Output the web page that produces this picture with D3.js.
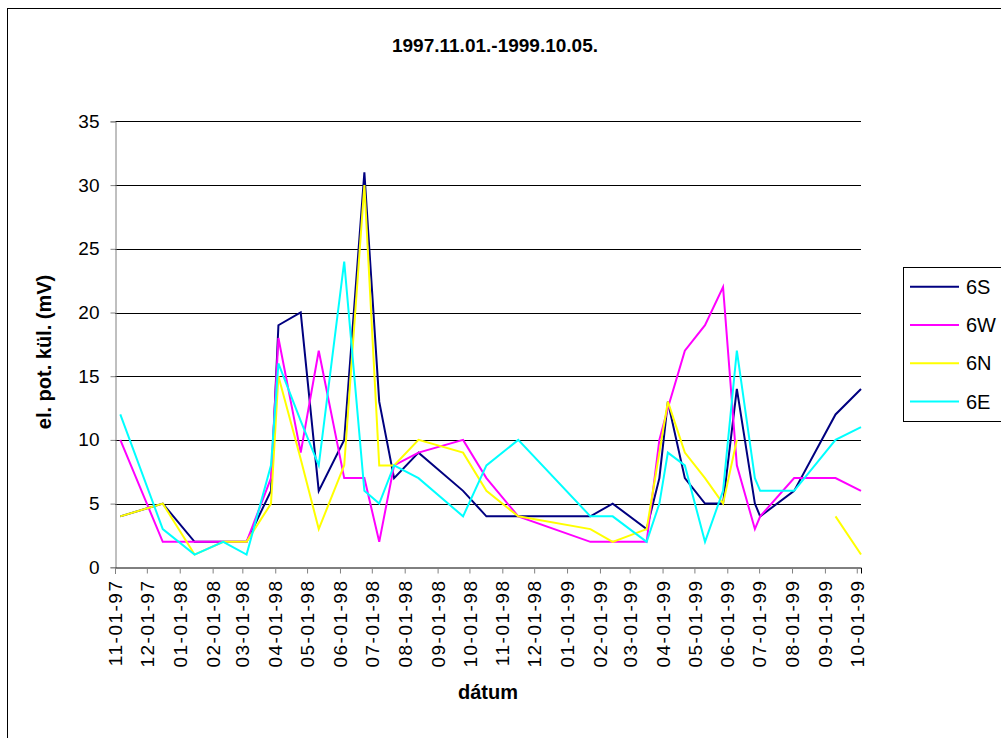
<!DOCTYPE html>
<html>
<head>
<meta charset="utf-8">
<script src="https://cdn.jsdelivr.net/npm/d3@7"></script>
<style>
    body { margin: 0; background: #fff; }
    svg { font-family: 'Liberation Sans', Arial, sans-serif; }
</style>
</head>
<body>
<svg id="chart" width="1001" height="738"></svg>
<script>
// measurement dates (m-d-y in the picture)
var dates = ['1997-11-06', '1997-12-16', '1998-01-15', '1998-02-11', '1998-03-05', '1998-03-28',
    '1998-04-04', '1998-04-25', '1998-05-12', '1998-06-05', '1998-06-24', '1998-07-08',
    '1998-07-22', '1998-08-14', '1998-09-25', '1998-10-17', '1998-11-16', '1999-01-23',
    '1999-02-13', '1999-03-17', '1999-03-29', '1999-04-06', '1999-04-22', '1999-05-11',
    '1999-05-28', '1999-06-10', '1999-06-27', '1999-07-02', '1999-08-03', '1999-09-11',
    '1999-10-05'];

var s6S = [4, 5, 2, 2, 2, 6, 19, 20, 6, 10, 31, 13, 7, 9, 6, 4, 4, 4, 5, 3, 7, 13, 7, 5, 5, 14, 5, 4, 6, 12, 14];
var s6W = [10, 2, 2, 2, 2, 7, 18, 9, 17, 7, 7, 2, 8, 9, 10, 7, 4, 2, 2, 2, 10, 12.5, 17, 19, 22, 8, 3, 4, 7, 7, 6];
var s6N = [4, 5, 1, 2, 2, 5, 15, 8.5, 3, 8, 30, 8, 8, 10, 9, 6, 4, 3, 2, 3, 9, 13, 9, 7, 5, 10, null, null, null, 4, 1];
var s6E = [12, 3, 1, 2, 1, 8, 16, 11.5, 8, 24, 6, 5, 8, 7, 4, 8, 10, 4, 4, 2, 5, 9, 8, 2, 6, 17, 7, 6, 6, 10, 11];

var seriesNames = ['6S', '6W', '6N', '6E'];
var seriesColors = ['#000080', '#ff00ff', '#ffff00', '#00ffff'];
var yTicks = [0, 5, 10, 15, 20, 25, 30, 35];
var axisStart = '1997-11-01';
var axisEnd = '1999-10-05';

var titleText = '1997.11.01.-1999.10.05.';
var xTitle = 'dátum';
var yTitle = 'el. pot. kül. (mV)';

var parse = d3.timeParse('%Y-%m-%d');
var allSeries = [s6S, s6W, s6N, s6E];

var svg = d3.select('#chart');

// chart area frame
svg.append('rect')
    .attr('x', 7.5).attr('y', 8.5)
    .attr('width', 1010).attr('height', 750)
    .attr('fill', 'none').attr('stroke', '#000').attr('stroke-width', 1);

var xScale = d3.scaleTime()
    .domain([parse(axisStart), parse(axisEnd)])
    .range([115, 861]);
var yScale = d3.scaleLinear()
    .domain([0, 35])
    .range([567.3, 121.4]);

// gridlines
svg.append('g')
    .selectAll('line')
    .data(yTicks.filter(d => d > 0))
    .enter().append('line')
        .attr('x1', 115).attr('x2', 861)
        .attr('y1', d => Math.round(yScale(d)) + 0.5)
        .attr('y2', d => Math.round(yScale(d)) + 0.5)
        .attr('stroke', '#000').attr('stroke-width', 1);

// y axis
var yAxis = svg.append('g')
    .attr('transform', 'translate(115.5,0)')
    .call(d3.axisLeft(yScale).tickValues(yTicks).tickSize(5).tickPadding(11).tickFormat(d3.format('d')));
yAxis.select('.domain').attr('stroke', '#808080');
yAxis.selectAll('.tick line').attr('stroke', '#808080');
yAxis.selectAll('text')
    .attr('font-size', '19px')
    .attr('font-family', 'Liberation Sans, Arial, sans-serif')
    .attr('fill', '#000');

// x axis
var xAxis = svg.append('g')
    .attr('transform', 'translate(0,' + (Math.round(yScale(0)) + 0.5) + ')')
    .call(d3.axisBottom(xScale).ticks(d3.timeMonth.every(1)).tickSize(6).tickFormat(d3.timeFormat('%m-%d-%y')));
xAxis.select('.domain').attr('stroke', '#000');
xAxis.selectAll('.tick line').attr('stroke', '#808080');
xAxis.selectAll('text')
    .attr('font-size', '19px')
    .attr('font-family', 'Liberation Sans, Arial, sans-serif')
    .attr('fill', '#000')
    .attr('letter-spacing', '1.5px')
    .attr('text-anchor', 'end')
    .attr('transform', 'rotate(-90)')
    .attr('x', -12)
    .attr('y', 0)
    .attr('dy', '0.35em');

// lines
var line = d3.line()
    .defined(d => d.v !== null)
    .x(d => xScale(d.date))
    .y(d => yScale(d.v));

allSeries.forEach(function (values, i) {
    var pts = dates.map((d, j) => ({date: parse(d), v: values[j]}));
    svg.append('path')
        .attr('d', line(pts))
        .attr('fill', 'none')
        .attr('stroke', seriesColors[i])
        .attr('stroke-width', 2)
        .attr('stroke-linejoin', 'miter');
});

// title and axis titles
svg.append('text')
    .attr('x', 495).attr('y', 52)
    .attr('text-anchor', 'middle')
    .attr('font-size', '19px')
    .attr('font-weight', 'bold')
    .text(titleText);

svg.append('text')
    .attr('x', 488).attr('y', 699)
    .attr('text-anchor', 'middle')
    .attr('font-size', '20px')
    .attr('font-weight', 'bold')
    .text(xTitle);

svg.append('text')
    .attr('transform', 'translate(51,352) rotate(-90)')
    .attr('text-anchor', 'middle')
    .attr('font-size', '20px')
    .attr('font-weight', 'bold')
    .text(yTitle);

// legend
var legend = svg.append('g');
legend.append('rect')
    .attr('x', 903.5).attr('y', 267.5)
    .attr('width', 120).attr('height', 154)
    .attr('fill', '#fff').attr('stroke', '#000').attr('stroke-width', 1);

var legendItems = legend.selectAll('g.item')
    .data(seriesNames)
    .enter().append('g')
        .attr('class', 'item')
        .attr('transform', (d, i) => 'translate(0,' + (286.7 + i * 38.3) + ')');
legendItems.append('line')
    .attr('x1', 910).attr('x2', 959)
    .attr('stroke', (d, i) => seriesColors[i])
    .attr('stroke-width', 2);
legendItems.append('text')
    .attr('x', 966)
    .attr('dy', '0.35em')
    .attr('font-size', '20px')
    .text(d => d);
</script>
</body>
</html>
